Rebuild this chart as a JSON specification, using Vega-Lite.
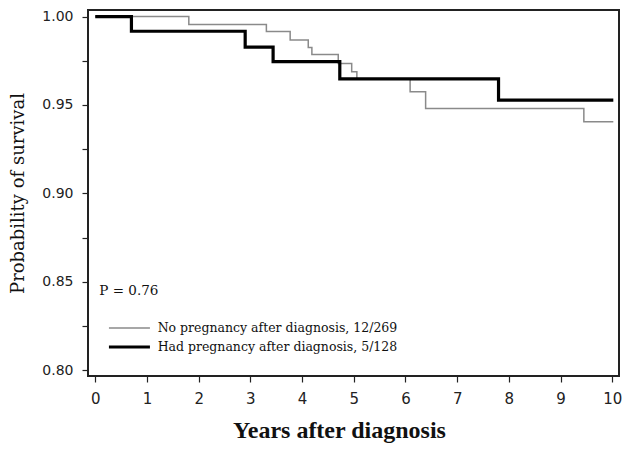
{
  "$schema": "https://vega.github.io/schema/vega-lite/v6.json",
  "width": 531,
  "height": 366,
  "autosize": "none",
  "padding": {"left": 88, "top": 10, "right": 10, "bottom": 75},
  "background": "white",
  "config": {
    "view": {"stroke": "#222222", "strokeWidth": 2},
    "axis": {"grid": false, "domain": false, "tickColor": "#222222", "tickSize": 6, "tickWidth": 1.2, "labelColor": "#222222", "titleColor": "#111111", "labelFont": "DejaVu Sans", "labelFontSize": 14, "titleFont": "DejaVu Serif", "titleFontWeight": "normal"}
  },
  "datasets": {
    "curves": [
      {"t": 0, "s": 1.0, "g": "No pregnancy after diagnosis, 12/269"},
      {"t": 1.81, "s": 0.9955, "g": "No pregnancy after diagnosis, 12/269"},
      {"t": 3.31, "s": 0.9915, "g": "No pregnancy after diagnosis, 12/269"},
      {"t": 3.77, "s": 0.9868, "g": "No pregnancy after diagnosis, 12/269"},
      {"t": 4.12, "s": 0.9825, "g": "No pregnancy after diagnosis, 12/269"},
      {"t": 4.19, "s": 0.9785, "g": "No pregnancy after diagnosis, 12/269"},
      {"t": 4.7, "s": 0.9735, "g": "No pregnancy after diagnosis, 12/269"},
      {"t": 4.96, "s": 0.9688, "g": "No pregnancy after diagnosis, 12/269"},
      {"t": 5.06, "s": 0.9648, "g": "No pregnancy after diagnosis, 12/269"},
      {"t": 6.09, "s": 0.9575, "g": "No pregnancy after diagnosis, 12/269"},
      {"t": 6.39, "s": 0.948, "g": "No pregnancy after diagnosis, 12/269"},
      {"t": 9.45, "s": 0.9405, "g": "No pregnancy after diagnosis, 12/269"},
      {"t": 10.02, "s": 0.9405, "g": "No pregnancy after diagnosis, 12/269"},
      {"t": 0, "s": 1.0, "g": "Had pregnancy after diagnosis, 5/128"},
      {"t": 0.7, "s": 0.9917, "g": "Had pregnancy after diagnosis, 5/128"},
      {"t": 2.9, "s": 0.9827, "g": "Had pregnancy after diagnosis, 5/128"},
      {"t": 3.44, "s": 0.9745, "g": "Had pregnancy after diagnosis, 5/128"},
      {"t": 4.73, "s": 0.9648, "g": "Had pregnancy after diagnosis, 5/128"},
      {"t": 7.8, "s": 0.9527, "g": "Had pregnancy after diagnosis, 5/128"},
      {"t": 10.02, "s": 0.9527, "g": "Had pregnancy after diagnosis, 5/128"}
    ],
    "legend": [
      {"x1": 0.265, "x2": 1.058, "xt": 1.207, "s": 0.8239, "g": "No pregnancy after diagnosis, 12/269"},
      {"x1": 0.265, "x2": 1.058, "xt": 1.207, "s": 0.8132, "g": "Had pregnancy after diagnosis, 5/128"}
    ]
  },
  "layer": [
    {
      "data": {"name": "curves"},
      "mark": {"type": "line", "interpolate": "step-after"},
      "encoding": {
        "x": {"field": "t", "type": "quantitative",
          "scale": {"domain": [-0.14, 10.13], "nice": false, "zero": false},
          "axis": {"values": [0,0.5,1,1.5,2,2.5,3,3.5,4,4.5,5,5.5,6,6.5,7,7.5,8,8.5,9,9.5,10],
            "labelExpr": "datum.value % 1 === 0 ? datum.label : ''",
            "title": "Years after diagnosis", "titleFontSize": 24, "titleFontWeight": "bold", "titleFont": "Liberation Serif", "titlePadding": 12, "titleX": 251, "titleAlign": "center", "labelPadding": 9, "labelFontSize": 15}},
        "y": {"field": "s", "type": "quantitative",
          "scale": {"domain": [0.7968, 1.0037], "nice": false, "zero": false},
          "axis": {"values": [0.8,0.825,0.85,0.875,0.9,0.925,0.95,0.975,1.0],
            "labelExpr": "(round(datum.value*1000) % 50 === 0) ? format(datum.value, '.2f') : ''",
            "title": "Probability of survival", "titleFontSize": 18, "titlePadding": 14, "labelPadding": 9}},
        "color": {"field": "g", "type": "nominal",
          "scale": {"domain": ["No pregnancy after diagnosis, 12/269", "Had pregnancy after diagnosis, 5/128"], "range": ["#8a8a8a", "#000000"]},
          "legend": null},
        "strokeWidth": {"field": "g", "type": "nominal",
          "scale": {"domain": ["No pregnancy after diagnosis, 12/269", "Had pregnancy after diagnosis, 5/128"], "range": [1.5, 3.2]},
          "legend": null}
      }
    },
    {
      "data": {"name": "legend"},
      "mark": {"type": "rule"},
      "encoding": {
        "x": {"field": "x1", "type": "quantitative"},
        "x2": {"field": "x2"},
        "y": {"field": "s", "type": "quantitative"},
        "color": {"field": "g", "type": "nominal", "legend": null},
        "strokeWidth": {"field": "g", "type": "nominal", "legend": null}
      }
    },
    {
      "data": {"name": "legend"},
      "mark": {"type": "text", "align": "left", "baseline": "middle", "font": "DejaVu Serif", "fontSize": 12.5, "color": "#111111"},
      "encoding": {
        "x": {"field": "xt", "type": "quantitative"},
        "y": {"field": "s", "type": "quantitative"},
        "text": {"field": "g"}
      }
    },
    {
      "data": {"values": [{"t": 0.08, "s": 0.8448, "label": "P  = 0.76"}]},
      "mark": {"type": "text", "align": "left", "baseline": "middle", "font": "DejaVu Serif", "fontSize": 13.5, "color": "#111111"},
      "encoding": {
        "x": {"field": "t", "type": "quantitative"},
        "y": {"field": "s", "type": "quantitative"},
        "text": {"field": "label"}
      }
    }
  ]
}
